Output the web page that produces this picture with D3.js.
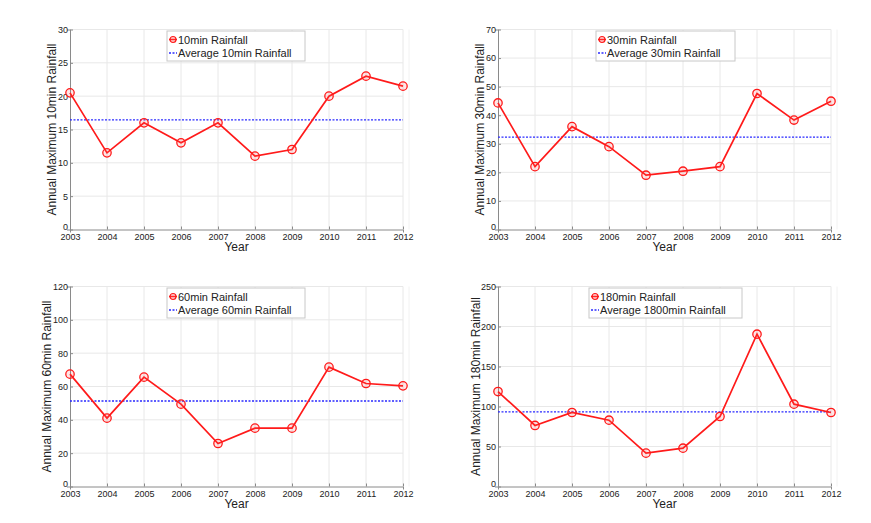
<!DOCTYPE html>
<html>
<head>
<meta charset="utf-8">
<script src="https://cdn.jsdelivr.net/npm/d3@7"></script>
<style>
  html, body { margin: 0; padding: 0; background: #fff; }
  svg { display: block; font-family: "Liberation Sans", Arial, sans-serif; }
</style>
</head>
<body>
<svg id="chart" width="871" height="523"></svg>
<script>
// ---- Data ----
const years = [2003, 2004, 2005, 2006, 2007, 2008, 2009, 2010, 2011, 2012];

const rain10  = [20.5, 11.5, 16, 13, 16, 11, 12, 20, 23, 21.5];
const rain30  = [44.3, 22, 36, 29, 19, 20.4, 22, 47.6, 38.3, 44.9];
const rain60  = [67.4, 41, 65.6, 49.4, 25.8, 35, 35, 71.6, 61.8, 60.4];
const rain180 = [118.7, 76.3, 92.5, 82.9, 41.7, 47.9, 87.5, 190.4, 102.9, 92.5];

const avg10  = 16.45;
const avg30  = 32.3;
const avg60  = 51.3;
const avg180 = 93.3;

const yTicks10  = [0, 5, 10, 15, 20, 25, 30];
const yTicks30  = [0, 10, 20, 30, 40, 50, 60, 70];
const yTicks60  = [0, 20, 40, 60, 80, 100, 120];
const yTicks180 = [0, 50, 100, 150, 200, 250];

const seriesNames  = ["10min Rainfall", "30min Rainfall", "60min Rainfall", "180min Rainfall"];
const averageNames = ["Average 10min Rainfall", "Average 30min Rainfall", "Average 60min Rainfall", "Average 1800min Rainfall"];
const yTitles = ["Annual Maximum 10min Rainfall", "Annual Maximum 30min Rainfall", "Annual Maximum 60min Rainfall", "Annual Maximum 180min Rainfall"];
const xTitle = "Year";

// ---- Layout (positions only) ----
const panels = [
  { values: rain10,  avg: avg10,  ticks: yTicks10,  left: 70,  right: 403, top: 29.5, bottom: 229.5, legX: 167, legY: 31, legW: 138, ytx: 51.5 },
  { values: rain30,  avg: avg30,  ticks: yTicks30,  left: 498, right: 831, top: 29.5, bottom: 229.5, legX: 596, legY: 31, legW: 139, ytx: 480 },
  { values: rain60,  avg: avg60,  ticks: yTicks60,  left: 70,  right: 403, top: 286.5, bottom: 486.5, legX: 167, legY: 288, legW: 138, ytx: 47 },
  { values: rain180, avg: avg180, ticks: yTicks180, left: 498, right: 831, top: 286.5, bottom: 486.5, legX: 589, legY: 288, legW: 153, ytx: 475.5 }
];

const svg = d3.select("#chart");
const RED = "#ff1a1a";
const BLUE = "#2a2aff";

panels.forEach((p, i) => {
  const g = svg.append("g");
  const x = d3.scaleLinear().domain([years[0], years[years.length - 1]]).range([p.left, p.right]);
  const y = d3.scaleLinear().domain([p.ticks[0], p.ticks[p.ticks.length - 1]]).range([p.bottom, p.top]);

  // grid
  g.append("g").selectAll("line").data(years.slice(1)).join("line")
    .attr("x1", d => x(d)).attr("x2", d => x(d))
    .attr("y1", p.top).attr("y2", p.bottom)
    .attr("stroke", "#e8e8e8").attr("stroke-width", 1);
  g.append("g").selectAll("line").data(p.ticks.slice(1)).join("line")
    .attr("x1", p.left).attr("x2", p.right)
    .attr("y1", d => y(d)).attr("y2", d => y(d))
    .attr("stroke", "#e8e8e8").attr("stroke-width", 1);
  // faint right boundary
  g.append("line").attr("x1", p.right + 6).attr("x2", p.right + 6)
    .attr("y1", p.top).attr("y2", p.bottom).attr("stroke", "#f2f2f2");

  // axes
  const xAxis = d3.axisBottom(x).tickValues(years).tickFormat(d3.format("d")).tickSize(3).tickPadding(1);
  const yAxis = d3.axisLeft(y).tickValues(p.ticks).tickSize(3).tickPadding(-1);
  const gx = g.append("g").attr("transform", `translate(0,${p.bottom})`).call(xAxis);
  const gy = g.append("g").attr("transform", `translate(${p.left},0)`).call(yAxis);
  [gx, gy].forEach(a => {
    a.select(".domain").attr("stroke", "#8a8a8a");
    a.selectAll(".tick line").attr("stroke", "#8a8a8a").attr("transform", a === gx ? "translate(0,-3)" : "translate(3,0)");
    a.selectAll("text").attr("fill", "#222").style("font-size", "9px").style("font-family", "'Liberation Sans', Arial, sans-serif");
  });
  // lift the zero label, as in the reference
  gy.selectAll(".tick").filter(d => d === p.ticks[0]).select("text").attr("y", -3);

  // axis titles
  g.append("text").text(xTitle)
    .attr("x", (p.left + p.right) / 2).attr("y", p.bottom + 21)
    .attr("text-anchor", "middle").attr("fill", "#222").style("font-size", "12px");
  g.append("text").text(yTitles[i])
    .attr("transform", `translate(${p.ytx},${(p.top + p.bottom) / 2}) rotate(-90)`)
    .attr("text-anchor", "middle").attr("dominant-baseline", "central")
    .attr("fill", "#222").style("font-size", "12px");

  // average line
  g.append("line")
    .attr("x1", x(years[0])).attr("x2", x(years[years.length - 1]))
    .attr("y1", y(p.avg)).attr("y2", y(p.avg))
    .attr("stroke", BLUE).attr("stroke-width", 1.3).attr("stroke-dasharray", "2,1.5");

  // series line
  const line = d3.line().x((d, k) => x(years[k])).y(d => y(d));
  g.append("path").datum(p.values).attr("d", line)
    .attr("fill", "none").attr("stroke", RED).attr("stroke-width", 1.7);
  g.append("g").selectAll("circle").data(p.values).join("circle")
    .attr("cx", (d, k) => x(years[k])).attr("cy", d => y(d)).attr("r", 4.2)
    .attr("fill", "rgba(255,80,80,0.15)").attr("stroke", RED).attr("stroke-width", 1.3);

  // legend
  const lg = g.append("g").attr("transform", `translate(${p.legX},${p.legY})`);
  lg.append("rect").attr("width", p.legW).attr("height", 30)
    .attr("fill", "#fff").attr("stroke", "#c8c8c8").attr("stroke-width", 1);
  lg.append("line").attr("x1", 2).attr("x2", 10).attr("y1", 8.5).attr("y2", 8.5)
    .attr("stroke", RED).attr("stroke-width", 1.4);
  lg.append("circle").attr("cx", 6).attr("cy", 8.5).attr("r", 3)
    .attr("fill", "rgba(255,80,80,0.3)").attr("stroke", RED).attr("stroke-width", 1.2);
  lg.append("text").text(seriesNames[i]).attr("x", 11).attr("y", 12.5)
    .attr("fill", "#222").style("font-size", "11px");
  lg.append("line").attr("x1", 2).attr("x2", 10).attr("y1", 22).attr("y2", 22)
    .attr("stroke", BLUE).attr("stroke-width", 1.3).attr("stroke-dasharray", "2,1.5");
  lg.append("text").text(averageNames[i]).attr("x", 11).attr("y", 26)
    .attr("fill", "#222").style("font-size", "11px");
});
</script>
</body>
</html>
